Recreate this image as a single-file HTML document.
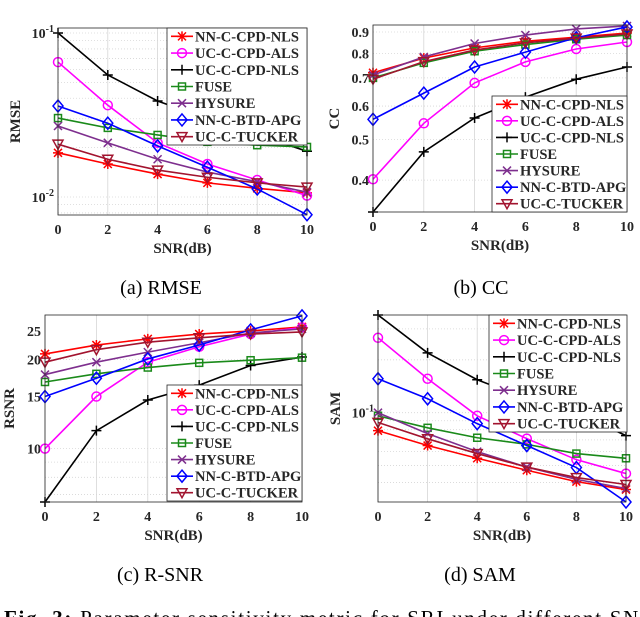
<!DOCTYPE html>
<html><head><meta charset="utf-8">
<style>
html,body{margin:0;padding:0;background:#fff;width:640px;height:617px;overflow:hidden}
svg{display:block}
text{font-family:"Liberation Serif",serif}
</style></head>
<body>
<svg id="fig" width="640" height="617" viewBox="0 0 640 617" xmlns="http://www.w3.org/2000/svg">
<text x="161" y="294" font-size="20" text-anchor="middle">(a) RMSE</text>
<text x="481" y="294" font-size="20" text-anchor="middle">(b) CC</text>
<text x="160" y="581" font-size="20" text-anchor="middle">(c) R-SNR</text>
<text x="480" y="581" font-size="20" text-anchor="middle">(d) SAM</text>
<text x="4" y="625" font-size="21" textLength="650" lengthAdjust="spacing"><tspan font-weight="bold">Fig. 3:</tspan> Parameter sensitivity metric for SRI under different SNR</text>
</svg>
<script>
const snr = [0, 2, 4, 6, 8, 10];
const methods = ["NN-C-CPD-NLS","UC-C-CPD-ALS","UC-C-CPD-NLS","FUSE","HYSURE","NN-C-BTD-APG","UC-C-TUCKER"];
const colors = ["#ff0000","#ff00ff","#000000","#1a8a1a","#7e2f8e","#0000ff","#a2142f"];
const markers = ["star","circle","plus","square","x","diamond","tri"];

// (a) RMSE
const rmseNN = [0.0186,0.0159,0.0138,0.0122,0.0113,0.0106];
const rmseALS = [0.0665,0.0363,0.0214,0.0159,0.0127,0.0102];
const rmseNLS = [0.1,0.0555,0.0385,0.030,0.024,0.019];
const rmseFUSE = [0.0303,0.0264,0.0239,0.0217,0.0207,0.0202];
const rmseHYS = [0.0271,0.0214,0.0170,0.0142,0.0124,0.0107];
const rmseBTD = [0.0359,0.0282,0.0205,0.0152,0.0112,0.0078];
const rmseTUCK = [0.0210,0.0170,0.0146,0.0132,0.0122,0.0115];
// (b) CC
const ccNN = [0.72,0.78,0.825,0.855,0.875,0.895];
const ccALS = [0.402,0.546,0.681,0.764,0.820,0.852];
const ccNLS = [0.336,0.467,0.562,0.63,0.695,0.743];
const ccFUSE = [0.70,0.76,0.81,0.84,0.865,0.885];
const ccHYS = [0.711,0.785,0.845,0.885,0.915,0.93];
const ccBTD = [0.558,0.644,0.743,0.806,0.872,0.925];
const ccTUCK = [0.695,0.765,0.815,0.848,0.87,0.89];
// (c) RSNR
const rsnrNN = [20.9,22.4,23.5,24.4,25.0,25.8];
const rsnrALS = [10.0,15.0,19.6,22.1,24.4,25.7];
const rsnrNLS = [6.6,11.5,14.6,16.4,19.1,20.4];
const rsnrFUSE = [16.8,17.9,18.8,19.5,19.9,20.3];
const rsnrHYS = [17.8,19.6,21.2,22.8,24.6,25.4];
const rsnrBTD = [15.0,17.3,20.1,22.4,25.2,28.1];
const rsnrTUCK = [19.6,21.6,22.9,23.7,24.4,24.8];
// (d) SAM
const samNN = [0.079,0.065,0.055,0.047,0.0405,0.0365];
const samALS = [0.267,0.156,0.096,0.0712,0.054,0.045];
const samNLS = [0.36,0.219,0.154,0.12,0.10,0.074];
const samFUSE = [0.096,0.082,0.072,0.066,0.0585,0.055];
const samHYS = [0.100,0.076,0.060,0.049,0.0417,0.037];
const samBTD = [0.156,0.12,0.0866,0.065,0.0487,0.031];
const samTUCK = [0.088,0.071,0.0585,0.049,0.0427,0.039];

const xTicks = [0,2,4,6,8,10];
const ccTicks = [0.4,0.5,0.6,0.7,0.8,0.9];
const rsnrTicks = [10,15,20,25];

const NS = "http://www.w3.org/2000/svg";
const svg = document.getElementById("fig");
function mk(tag, attrs, parent){
  const e = document.createElementNS(NS, tag);
  for (const k in attrs) e.setAttribute(k, attrs[k]);
  (parent||svg).appendChild(e);
  return e;
}
function marker(g, type, x, y, c){
  const s = 5;
  let e;
  if (type==="circle") e = mk("circle",{cx:x,cy:y,r:4.5,fill:"none",stroke:c,"stroke-width":1.5},g);
  else if (type==="square") e = mk("rect",{x:x-3.5,y:y-3.5,width:7,height:7,fill:"none",stroke:c,"stroke-width":1.5},g);
  else if (type==="diamond") e = mk("path",{d:`M${x},${y-6}L${x+5},${y}L${x},${y+6}L${x-5},${y}Z`,fill:"none",stroke:c,"stroke-width":1.5},g);
  else if (type==="tri") e = mk("path",{d:`M${x-5},${y-4}L${x+5},${y-4}L${x},${y+5}Z`,fill:"none",stroke:c,"stroke-width":1.5},g);
  else if (type==="plus") e = mk("path",{d:`M${x-s},${y}H${x+s}M${x},${y-s}V${y+s}`,stroke:c,"stroke-width":1.5},g);
  else if (type==="x") e = mk("path",{d:`M${x-4},${y-4}L${x+4},${y+4}M${x-4},${y+4}L${x+4},${y-4}`,stroke:c,"stroke-width":1.5},g);
  else e = mk("path",{d:`M${x-s},${y}H${x+s}M${x},${y-s}V${y+s}M${x-4},${y-4}L${x+4},${y+4}M${x-4},${y+4}L${x+4},${y-4}`,stroke:c,"stroke-width":1.5},g);
  
  
}

function chart(cfg){
  const {id,x0,x1,y0,y1,top,bot,series,yticks,ylabel,ylx,leg} = cfg;
  const g = mk("g",{});
  
  
  const lt = Math.log10(top), lb = Math.log10(bot);
  const sy = v => y0 + (lt - Math.log10(v)) / (lt - lb) * (y1 - y0);
  const sx = v => x0 + v/10 * (x1 - x0);
  for (let d = Math.floor(lb); d <= Math.ceil(lt); d++){
    for (let m = 1; m < 10; m++){
      const v = m*Math.pow(10,d);
      if (v < bot || v > top) continue;
      const l = mk("line",{x1:x0,x2:x1,y1:sy(v),y2:sy(v),stroke:"#d6d6d6","stroke-width":0.8,"stroke-dasharray":"1,2"},g);
      
      
    }
  }
  xTicks.forEach(t=>{
    const l = mk("line",{x1:sx(t),x2:sx(t),y1:y0,y2:y1,stroke:"#d6d6d6","stroke-width":0.8},g);
    
    
    const tx = mk("text",{x:sx(t),y:y1+19,"font-size":14,"font-weight":"bold","text-anchor":"middle",fill:"#262626"},g);
    tx.textContent = t;
    
    
  });
  yticks.forEach(t=>{
    const tx = mk("text",{x:x0-4,y:sy(t.v)+5,"font-size":14,"font-weight":"bold","text-anchor":"end",fill:"#262626"},g);
    if (t.exp){ tx.innerHTML = `10<tspan dy="-6" font-size="10">${t.exp}</tspan>`; }
    else tx.textContent = t.label;
    
    
  });
  const xl = mk("text",{x:(x0+x1)/2,y:y1+38,"font-size":15,"font-weight":"bold","text-anchor":"middle",fill:"#262626"},g);
  xl.textContent = "SNR(dB)";
  
  
  const yx = ylx, yy = (y0+y1)/2;
  const yl = mk("text",{x:yx,y:yy,"font-size":15,"font-weight":"bold","text-anchor":"middle",fill:"#262626",transform:`rotate(-90 ${yx} ${yy})`},g);
  yl.textContent = ylabel;
  
  
  series.forEach((s,i)=>{
    const pl = mk("polyline",{points:snr.map((x,j)=>sx(x)+","+sy(s[j])).join(" "),fill:"none",stroke:colors[i],"stroke-width":1.6},g);
    
    
    snr.forEach((x,j)=>marker(g,markers[i],sx(x),sy(s[j]),colors[i]));
  });
  const box = mk("rect",{x:x0,y:y0,width:x1-x0,height:y1-y0,fill:"none",stroke:"#262626","stroke-width":0.8},g);
  
  
  const lg = mk("g",{},g);
  
  
  const lr = mk("rect",{x:leg.x0,y:leg.y0,width:leg.x1-leg.x0,height:leg.y1-leg.y0,fill:"#fff",stroke:"#262626","stroke-width":0.8},lg);
  
  
  const rh = (leg.y1-leg.y0)/7;
  methods.forEach((m,i)=>{
    const cy = leg.y0 + rh*(i+0.5);
    const ln = mk("line",{x1:leg.x0+4,x2:leg.x0+26,y1:cy,y2:cy,stroke:colors[i],"stroke-width":1.6},lg);
    
    
    marker(lg,markers[i],leg.x0+15,cy,colors[i]);
    const t = mk("text",{x:leg.x0+28,y:cy+5,"font-size":14.5,"font-weight":"bold",fill:"#262626"},lg);
    t.textContent = m;
    
    
  });
}

chart({id:"rmse",x0:58,x1:307,y0:28,y1:215,top:0.1073,bot:0.00777,
  series:[rmseNN,rmseALS,rmseNLS,rmseFUSE,rmseHYS,rmseBTD,rmseTUCK],
  yticks:[{v:0.1,exp:"-1"},{v:0.01,exp:"-2"}],ylabel:"RMSE",ylx:20,
  leg:{x0:167,x1:307,y0:28,y1:145}});
chart({id:"cc",x0:373,x1:627,y0:25,y1:212,top:0.935,bot:0.336,
  series:[ccNN,ccALS,ccNLS,ccFUSE,ccHYS,ccBTD,ccTUCK],
  yticks:ccTicks.map(v=>({v:v,label:v.toFixed(1)})),ylabel:"CC",ylx:339,
  leg:{x0:492,x1:627,y0:96,y1:212}});
chart({id:"rsnr",x0:45,x1:302,y0:315,y1:502,top:28.3,bot:6.6,
  series:[rsnrNN,rsnrALS,rsnrNLS,rsnrFUSE,rsnrHYS,rsnrBTD,rsnrTUCK],
  yticks:rsnrTicks.map(v=>({v:v,label:String(v)})),ylabel:"RSNR",ylx:14,
  leg:{x0:167,x1:302,y0:385,y1:501}});
chart({id:"sam",x0:378,x1:626,y0:315,y1:502,top:0.36,bot:0.031,
  series:[samNN,samALS,samNLS,samFUSE,samHYS,samBTD,samTUCK],
  yticks:[{v:0.1,exp:"-1"}],ylabel:"SAM",ylx:340,
  leg:{x0:489,x1:627,y0:315,y1:432}});
</script>
</body></html>
